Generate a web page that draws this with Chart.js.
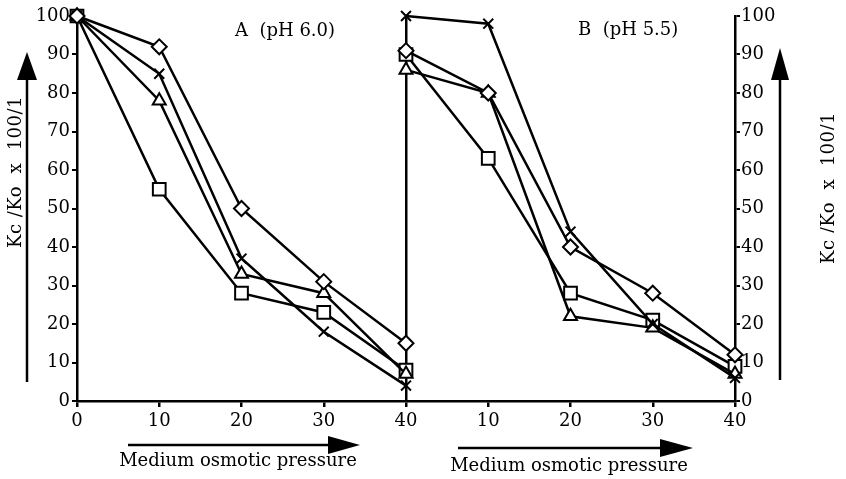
<!DOCTYPE html>
<html lang="en">
<head>
<meta charset="UTF-8">
<title>Kc/Ko vs medium osmotic pressure</title>
<script src="https://cdn.jsdelivr.net/npm/chart.js@4"></script>
<style>
  html, body { margin: 0; padding: 0; background: #fff; }
</style>
</head>
<body>
<canvas id="myChart" width="846" height="479"></canvas>
<script>
// osmotic pressure steps, same for both panels (panel B is drawn shifted by 40)
const pressure = [0, 10, 20, 30, 40];
const panelShift = 40;

// panel A (pH 6.0)
const diamondA  = [100, 92, 50, 31, 15];
const crossA    = [100, 85, 37, 18, 4];
const triangleA = [100, 78, 33, 28, 7];
const squareA   = [100, 55, 28, 23, 8];

// panel B (pH 5.5)
const diamondB  = [91, 80, 40, 28, 12];
const crossB    = [100, 98, 44, 20, 6];
const triangleB = [86, 80, 22, 19, 7];
const squareB   = [90, 63, 28, 21, 9];

const panelTitles = ['A  (pH 6.0)', 'B  (pH 5.5)'];
const xAxisTitle = 'Medium osmotic pressure';
const yAxisTitle = 'Kc /Ko  x  100/1';

const serif = "'DejaVu Serif', 'Liberation Serif', serif";
Chart.defaults.font.family = serif;
Chart.defaults.color = '#000';

function series(values, shift, style, radius) {
  return {
    data: pressure.map((p, i) => ({ x: p + shift, y: values[i] })),
    borderColor: '#000',
    borderWidth: 2.5,
    backgroundColor: '#fff',
    pointStyle: style,
    pointRadius: radius,
    pointBorderWidth: 2,
    pointBorderColor: '#000',
    pointBackgroundColor: '#fff',
    tension: 0,
    clip: false
  };
}

function arrow(ctx, x1, y1, x2, y2, headLen, headWidth, width) {
  const a = Math.atan2(y2 - y1, x2 - x1);
  const bx = x2 - Math.cos(a) * headLen, by = y2 - Math.sin(a) * headLen;
  ctx.lineWidth = width;
  ctx.beginPath();
  ctx.moveTo(x1, y1);
  ctx.lineTo(bx, by);
  ctx.stroke();
  const nx = -Math.sin(a) * headWidth / 2, ny = Math.cos(a) * headWidth / 2;
  ctx.beginPath();
  ctx.moveTo(x2, y2);
  ctx.lineTo(bx + nx, by + ny);
  ctx.lineTo(bx - nx, by - ny);
  ctx.closePath();
  ctx.fill();
}

const decorations = {
  id: 'decorations',
  afterDraw(chart) {
    const ctx = chart.ctx;
    ctx.save();
    ctx.fillStyle = '#000';
    ctx.strokeStyle = '#000';

    // panel labels
    ctx.font = '18px ' + serif;
    ctx.textBaseline = 'middle';
    ctx.textAlign = 'left';
    ctx.fillText(panelTitles[0], 235, 31);
    ctx.fillText(panelTitles[1], 578, 30);

    // x axis arrows + caption
    arrow(ctx, 128, 445, 360, 445, 32, 18, 2.5);
    arrow(ctx, 458, 448, 693, 448, 33, 18, 2.5);
    ctx.font = '18px ' + serif;
    ctx.textAlign = 'center';
    ctx.fillText(xAxisTitle, 238, 461);
    ctx.fillText(xAxisTitle, 569, 466);

    // y axis arrows
    arrow(ctx, 27, 382, 27, 52, 28, 20, 2.5);
    arrow(ctx, 780, 380, 780, 48, 32, 18, 2.5);

    // y axis captions (rotated)
    ctx.font = '18px ' + serif;
    ctx.letterSpacing = '0.5px';
    ctx.save();
    ctx.translate(16, 172);
    ctx.rotate(-Math.PI / 2);
    ctx.fillText(yAxisTitle, 0, 0);
    ctx.restore();

    ctx.save();
    ctx.beginPath();
    ctx.rect(0, 0, 834, 479);
    ctx.clip();
    ctx.translate(829, 188);
    ctx.rotate(-Math.PI / 2);
    ctx.fillText(yAxisTitle, 0, 0);
    ctx.restore();

    ctx.restore();
  }
};

const ctx = document.getElementById('myChart').getContext('2d');
new Chart(ctx, {
  type: 'line',
  data: {
    datasets: [
      series(diamondA, 0, 'rectRot', 7.5),
      series(crossA, 0, 'crossRot', 7),
      series(triangleA, 0, 'triangle', 7.5),
      series(squareA, 0, 'rect', 9),
      series(diamondB, panelShift, 'rectRot', 7.5),
      series(crossB, panelShift, 'crossRot', 7),
      series(triangleB, panelShift, 'triangle', 7.5),
      series(squareB, panelShift, 'rect', 9)
    ]
  },
  options: {
    responsive: false,
    animation: false,
    layout: { padding: { top: 16, left: 0, right: 0, bottom: 0 } },
    plugins: {
      legend: { display: false },
      tooltip: { enabled: false }
    },
    scales: {
      x: {
        type: 'linear',
        min: 0,
        max: 80,
        afterFit: s => { s.height = 78; },
        border: { display: true, color: '#000', width: 2.5 },
        grid: {
          color: c => (c.tick && c.tick.value === panelShift ? '#000' : 'rgba(0,0,0,0)'),
          lineWidth: 2.5,
          tickColor: '#000',
          tickLength: 6,
          drawTicks: true
        },
        ticks: {
          stepSize: 10,
          padding: 4,
          font: { size: 18 },
          color: '#000',
          maxRotation: 0,
          callback: v => (v > panelShift ? v - panelShift : v)
        }
      },
      y: {
        position: 'left',
        min: 0,
        max: 100,
        afterFit: s => { s.width = 77; },
        border: { display: true, color: '#000', width: 2.5 },
        grid: { drawOnChartArea: false, tickColor: '#000', tickLength: 5, lineWidth: 2 },
        ticks: { stepSize: 10, padding: 2, font: { size: 18 }, color: '#000' }
      },
      y2: {
        position: 'right',
        min: 0,
        max: 100,
        afterFit: s => { s.width = 111; },
        border: { display: true, color: '#000', width: 2.5 },
        grid: { drawOnChartArea: false, tickColor: '#000', tickLength: 5, lineWidth: 2 },
        ticks: { stepSize: 10, padding: 1, font: { size: 18 }, color: '#000' }
      }
    }
  },
  plugins: [decorations]
});
</script>
</body>
</html>
